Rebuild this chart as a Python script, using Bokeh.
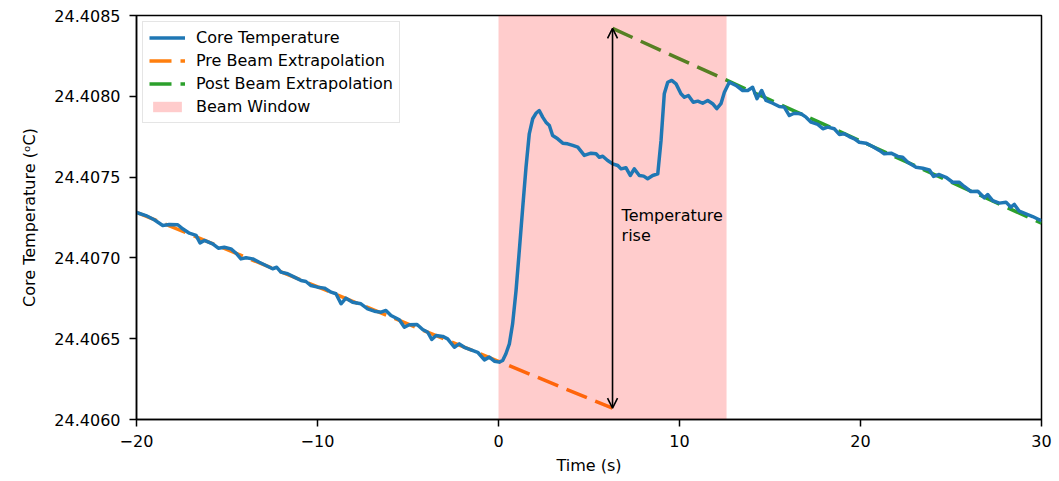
from bokeh.plotting import figure
from bokeh.models import (ColumnDataSource, Legend, LegendItem, Arrow, OpenHead, Label,
                          FixedTicker, PrintfTickFormatter, CustomJSTickFormatter, Range1d)
from bokeh.embed import file_html
from bokeh.resources import INLINE

# ---------------- data ----------------
time_s = [
    -20.00, -19.48, -19.02, -18.55, -18.19, -17.72, -17.45, -17.08, -16.71, -16.49,
    -16.25, -15.79, -15.48, -15.15, -14.78, -14.50, -14.23, -13.95, -13.58, -13.22,
    -12.85, -12.48, -12.25, -12.02, -11.65, -11.28, -10.91, -10.64, -10.36, -9.99,
    -9.62, -9.25, -8.98, -8.70, -8.43, -8.06, -7.60, -7.23, -6.86, -6.49,
    -6.22, -5.94, -5.48, -5.20, -4.93, -4.50, -4.19, -3.91, -3.69, -3.45,
    -3.08, -2.81, -2.44, -2.17, -1.89, -1.52, -1.15, -0.78, -0.51, -0.23,
    0.04, 0.23, 0.41, 0.60, 0.78, 0.97, 1.15, 1.34, 1.52, 1.70,
    1.89, 2.07, 2.25, 2.44, 2.62, 2.81, 2.99, 3.27, 3.55, 3.82,
    4.10, 4.38, 4.74, 5.11, 5.39, 5.57, 5.76, 6.03, 6.31, 6.59,
    6.77, 7.04, 7.28, 7.50, 7.78, 8.02, 8.24, 8.52, 8.80, 8.98,
    9.16, 9.35, 9.57, 9.81, 10.08, 10.27, 10.49, 10.76, 11.01, 11.28,
    11.56, 11.83, 12.06, 12.29, 12.48, 12.75, 13.12, 13.49, 13.77, 14.04,
    14.28, 14.54, 14.78, 15.15, 15.51, 15.79, 16.07, 16.34, 16.71, 16.99,
    17.27, 17.64, 17.92, 18.19, 18.55, 18.83, 19.10, 19.38, 19.66, 19.93,
    20.30, 20.67, 21.04, 21.31, 21.69, 22.06, 22.33, 22.61, 23.07, 23.44,
    23.80, 24.04, 24.35, 24.72, 25.09, 25.46, 25.73, 26.10, 26.48, 26.84,
    27.03, 27.30, 27.67, 28.04, 28.31, 28.50, 28.77, 29.14, 29.51, 29.88,
    30.00,
]
core_temp = [
    24.407281, 24.407262, 24.407236, 24.407201, 24.407207, 24.407205, 24.407180, 24.407153, 24.407139, 24.407093,
    24.407108, 24.407087, 24.407060, 24.407066, 24.407056, 24.407029, 24.406994, 24.407001, 24.406994, 24.406973,
    24.406953, 24.406933, 24.406942, 24.406912, 24.406902, 24.406881, 24.406860, 24.406854, 24.406829, 24.406819,
    24.406813, 24.406788, 24.406778, 24.406716, 24.406751, 24.406726, 24.406716, 24.406685, 24.406670, 24.406664,
    24.406675, 24.406644, 24.406617, 24.406571, 24.406586, 24.406588, 24.406557, 24.406540, 24.406495, 24.406520,
    24.406514, 24.406499, 24.406447, 24.406468, 24.406447, 24.406431, 24.406416, 24.406369, 24.406386, 24.406361,
    24.406355, 24.406365, 24.406407, 24.406468, 24.406592, 24.406798, 24.407046, 24.407314, 24.407561, 24.407768,
    24.407861, 24.407895, 24.407912, 24.407871, 24.407840, 24.407819, 24.407757, 24.407737, 24.407710, 24.407706,
    24.407696, 24.407685, 24.407634, 24.407648, 24.407644, 24.407623, 24.407629, 24.407603, 24.407582, 24.407572,
    24.407551, 24.407558, 24.407510, 24.407551, 24.407510, 24.407506, 24.407490, 24.407510, 24.407520, 24.407727,
    24.408016, 24.408087, 24.408098, 24.408077, 24.408016, 24.407994, 24.408005, 24.407963, 24.407970, 24.407957,
    24.407974, 24.407954, 24.407923, 24.407954, 24.408025, 24.408087, 24.408067, 24.408036, 24.408036, 24.408056,
    24.407985, 24.408036, 24.407974, 24.407957, 24.407937, 24.407933, 24.407881, 24.407895, 24.407892, 24.407871,
    24.407840, 24.407826, 24.407799, 24.407809, 24.407799, 24.407764, 24.407768, 24.407751, 24.407737, 24.407716,
    24.407710, 24.407689, 24.407665, 24.407644, 24.407648, 24.407628, 24.407623, 24.407592, 24.407561, 24.407555,
    24.407545, 24.407504, 24.407516, 24.407499, 24.407468, 24.407468, 24.407442, 24.407411, 24.407413, 24.407372,
    24.407392, 24.407355, 24.407339, 24.407345, 24.407314, 24.407331, 24.407289, 24.407273, 24.407256, 24.407236,
    24.407231,
]

pre_t = [-20.0, 6.3]
pre_temp = [24.407282, 24.406070]
post_t = [6.3, 30.0]
post_temp = [24.408420, 24.407215]

beam_start = [0.0]
beam_end = [12.6]

rise_t = 6.3
rise_low = 24.406070
rise_high = 24.408420
rise_text = "Temperature\nrise"
rise_text_t = 6.8
rise_text_temp = 24.40732

x_ticks = [-20, -10, 0, 10, 20, 30]
y_ticks = [24.4060, 24.4065, 24.4070, 24.4075, 24.4080, 24.4085]
x_lim = (-20, 30)
y_lim = (24.4060, 24.4085)

FONT = "DejaVu Sans"

# ---------------- figure ----------------
p = figure(frame_width=905, frame_height=404,
           min_border_left=136, min_border_right=18, min_border_top=15, min_border_bottom=62,
           x_range=Range1d(*x_lim), y_range=Range1d(*y_lim),
           output_backend="svg", toolbar_location=None)
p.background_fill_color = "white"
p.border_fill_color = "white"
p.grid.visible = False
p.outline_line_color = "black"
p.outline_line_width = 1.5
p.outline_line_alpha = 1.0

pre_r = p.line(pre_t, pre_temp, line_color="#ff7f0e", line_width=3.5, line_dash="22 9")
post_r = p.line(post_t, post_temp, line_color="#2ca02c", line_width=3.5, line_dash="22 9")
beam_src = ColumnDataSource(dict(left=beam_start, right=beam_end,
                                 bottom=[y_lim[0]], top=[y_lim[1]]))
beam_r = p.quad(left="left", right="right", bottom="bottom", top="top", source=beam_src,
                fill_color="red", fill_alpha=0.2, line_color=None)
core_r = p.line(time_s, core_temp, line_color="#1f77b4", line_width=3.5, line_join="round")

arrow = Arrow(x_start=rise_t, y_start=rise_low, x_end=rise_t, y_end=rise_high,
              line_color="black", line_width=1.6,
              start=OpenHead(size=10, line_width=1.6, line_color="black"),
              end=OpenHead(size=10, line_width=1.6, line_color="black"))
p.add_layout(arrow)
p.add_layout(Label(x=rise_text_t, y=rise_text_temp, text=rise_text, text_baseline="top",
                   text_align="left", text_font=FONT, text_font_size="16px",
                   text_color="black", text_line_height=1.05))

legend = Legend(items=[
    LegendItem(label="Core Temperature", renderers=[core_r]),
    LegendItem(label="Pre Beam Extrapolation", renderers=[pre_r]),
    LegendItem(label="Post Beam Extrapolation", renderers=[post_r]),
    LegendItem(label="Beam Window", renderers=[beam_r]),
], location="top_left")
legend.label_text_font = FONT
legend.label_text_font_size = "16px"
legend.label_text_color = "black"
legend.label_height = 19
legend.glyph_height = 13
legend.glyph_width = 36
legend.label_standoff = 11
legend.spacing = 4
legend.padding = 6
legend.margin = 6
legend.border_line_color = "#cccccc"
legend.border_line_width = 1
legend.background_fill_alpha = 0.8
p.add_layout(legend)

# axes
p.xaxis.ticker = FixedTicker(ticks=x_ticks)
p.yaxis.ticker = FixedTicker(ticks=y_ticks)
p.xaxis.formatter = CustomJSTickFormatter(
    code="return tick < 0 ? '\u2212' + Math.abs(tick).toString() : tick.toString();")
p.yaxis.formatter = PrintfTickFormatter(format="%.4f")
p.xaxis.axis_label = "Time (s)"
p.yaxis.axis_label = "Core Temperature (\u1d52C)"
for ax in (p.xaxis[0], p.yaxis[0]):
    ax.axis_line_color = "black"
    ax.axis_line_width = 1.5
    ax.major_tick_line_color = "black"
    ax.major_tick_line_width = 1.5
    ax.major_tick_in = 0
    ax.major_tick_out = 7
    ax.minor_tick_line_color = None
    ax.major_label_text_font = FONT
    ax.major_label_text_font_size = "16px"
    ax.major_label_text_color = "black"
    ax.axis_label_text_font = FONT
    ax.axis_label_text_font_size = "16px"
    ax.axis_label_text_font_style = "normal"
    ax.axis_label_text_color = "black"
p.xaxis.major_label_standoff = 8
p.yaxis.major_label_standoff = 9
p.xaxis.axis_label_standoff = 6
p.yaxis.axis_label_standoff = 12

open("out.html", "w").write(file_html(p, INLINE))
